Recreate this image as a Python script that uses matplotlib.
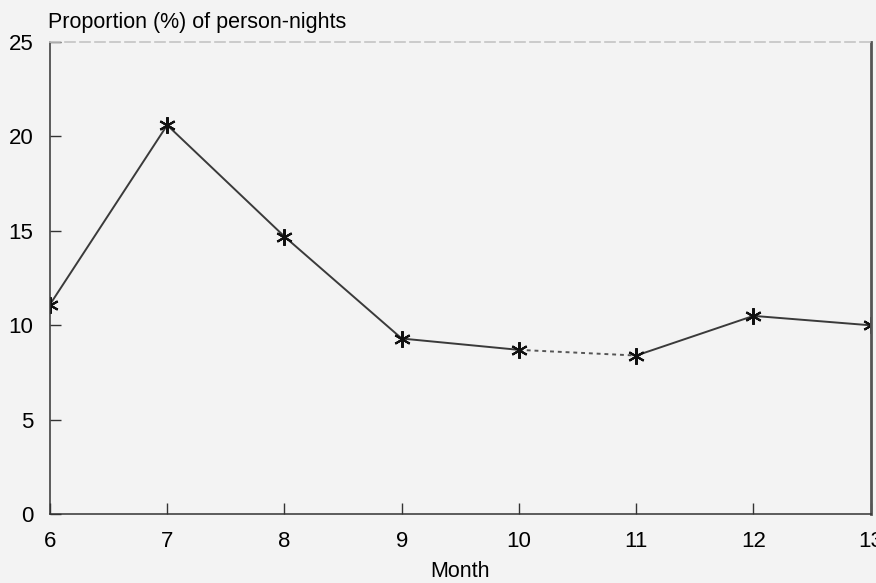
import matplotlib.pyplot as plt

# Monthly share of person-nights
months = [6, 7, 8, 9, 10, 11, 12, 13]
share = [11.1, 20.6, 14.7, 9.3, 8.7, 8.4, 10.5, 10.0]

plt.rcParams['font.family'] = ['Liberation Sans', 'DejaVu Sans']

fig = plt.figure(figsize=(8.76, 5.83), dpi=100, facecolor='#f3f3f3')
ax = fig.add_axes([0.057, 0.118, 0.937, 0.81], facecolor='#f3f3f3')

line_col = '#3a3a3a'
star = (6, 2, 0)

# solid pieces, with the Oct-Nov stretch dashed
ax.plot(months[:5], share[:5], color=line_col, lw=1.4)
ax.plot(months[5:], share[5:], color=line_col, lw=1.4)
ax.plot(months[4:6], share[4:6], color='#555555', lw=1.4, ls=(0, (2, 2)))
ax.plot(months, share, ls='none', marker=star, ms=12, mew=1.5,
        color='#111111')

ax.set_xlim(6, 13)
ax.set_ylim(0, 25)
ax.set_xticks(months)
ax.set_yticks([0, 5, 10, 15, 20, 25])
ax.tick_params(direction='in', length=8, width=1, colors='#333333',
               labelsize=16, labelcolor='black')
ax.tick_params(axis='x', pad=12)
ax.tick_params(axis='y', pad=12)

for s in ['left', 'bottom']:
    ax.spines[s].set_color('#333333')
    ax.spines[s].set_linewidth(1.1)
ax.spines['right'].set_color('#555555')
ax.spines['right'].set_linewidth(2)
ax.spines['top'].set_color('#c4c4c4')
ax.spines['top'].set_linewidth(1.2)
ax.spines['top'].set_linestyle((0, (6, 3)))

ax.set_xlabel('Month', fontsize=15.5, labelpad=6.5)
fig.text(0.055, 0.943, 'Proportion (%) of person-nights', fontsize=15.5,
         ha='left', va='bottom')

plt.savefig('out.png', dpi=100, facecolor=fig.get_facecolor())
